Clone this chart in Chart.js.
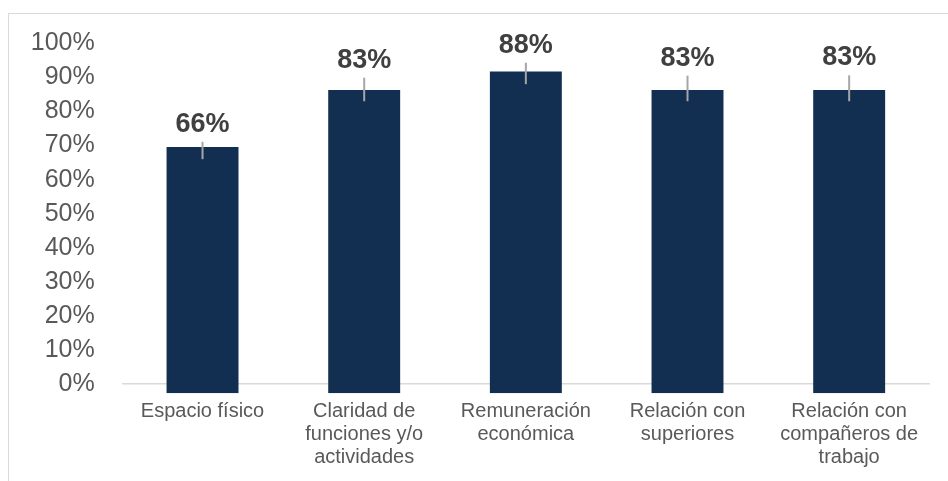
<!DOCTYPE html>
<html>
<head>
<meta charset="utf-8">
<script src="https://cdn.jsdelivr.net/npm/chart.js@4/dist/chart.umd.min.js"></script>
<style>
  html, body { margin: 0; padding: 0; background: #ffffff; }
  #wrap { position: relative; width: 948px; height: 481px; overflow: hidden; }
  #frame { position: absolute; left: 8px; top: 13px; width: 1000px; height: 600px;
           border-left: 1px solid #d9d9d9; border-top: 1px solid #d9d9d9; box-sizing: border-box; }
  #box { position: absolute; left: 0; top: 0; width: 948px; height: 481px; }
</style>
</head>
<body>
<div id="wrap">
  <div id="frame"></div>
  <div id="box"><canvas id="c"></canvas></div>
</div>
<script>
// ---- data ----
const categories = [
  ["Espacio físico"],
  ["Claridad de", "funciones y/o", "actividades"],
  ["Remuneración", "económica"],
  ["Relación con", "superiores"],
  ["Relación con", "compañeros de", "trabajo"]
];
const barValues   = [69.6, 86.3, 91.7, 86.3, 86.3];   // bar tops as drawn (%)
const labelValues = [66, 83, 88, 83, 83];             // printed data labels (%)
const errorHigh   = [71.1, 89.9, 94.3, 90.5, 90.6];   // upper end of grey whiskers (%)
const barBase     = -2.7;                             // bars start slightly below 0%
const tickValues  = [0, 10, 20, 30, 40, 50, 60, 70, 80, 90, 100];

Chart.defaults.font.family = "'Liberation Sans', Arial, sans-serif";

const whiskerPlugin = {
  id: 'whiskers',
  afterDatasetsDraw(chart) {
    const ctx = chart.ctx;
    const y = chart.scales.y;
    const meta = chart.getDatasetMeta(0);
    ctx.save();
    meta.data.forEach((bar, i) => {
      const yLow = y.getPixelForValue(labelValues[i]);
      const yHigh = y.getPixelForValue(errorHigh[i]);
      ctx.strokeStyle = '#a6a6a6';
      ctx.lineWidth = 2;
      ctx.beginPath();
      ctx.moveTo(bar.x, yLow);
      ctx.lineTo(bar.x, yHigh);
      ctx.stroke();
      ctx.fillStyle = '#404040';
      ctx.font = "bold 27px 'Liberation Sans', Arial, sans-serif";
      ctx.textAlign = 'center';
      ctx.textBaseline = 'alphabetic';
      ctx.fillText(labelValues[i] + '%', bar.x, yHigh - 10);
    });
    ctx.restore();
  }
};

new Chart(document.getElementById('c'), {
  type: 'bar',
  data: {
    labels: categories,
    datasets: [{
      data: barValues,
      base: barBase,
      backgroundColor: '#122e51',
      borderWidth: 0,
      barPercentage: 0.445,
      categoryPercentage: 1.0
    }]
  },
  options: {
    responsive: true,
    maintainAspectRatio: false,
    animation: false,
    devicePixelRatio: 1,
    layout: { padding: { left: 0, right: 18, top: 43.3, bottom: 0 } },
    plugins: { legend: { display: false }, tooltip: { enabled: false } },
    scales: {
      x: {
        grid: { display: false, drawTicks: false },
        border: { display: false },
        ticks: {
          color: '#595959',
          font: { size: 20, lineHeight: 1.17 },
          padding: 6,
          maxRotation: 0,
          autoSkip: false
        },
        afterFit(scale) { scale.height = 87.7; }
      },
      y: {
        min: barBase,
        max: 100,
        z: 1,
        afterBuildTicks(scale) { scale.ticks = tickValues.map(v => ({ value: v })); },
        afterFit(scale) { scale.width = 121.7; },
        grid: {
          drawTicks: false,
          lineWidth: 1.5,
          color: (c) => (c.tick && c.tick.value === 0) ? '#d9d9d9' : 'rgba(0,0,0,0)'
        },
        border: { display: false },
        ticks: {
          color: '#595959',
          font: { size: 25 },
          padding: 27,
          callback: (v) => v + '%'
        }
      }
    }
  },
  plugins: [whiskerPlugin]
});
</script>
</body>
</html>
